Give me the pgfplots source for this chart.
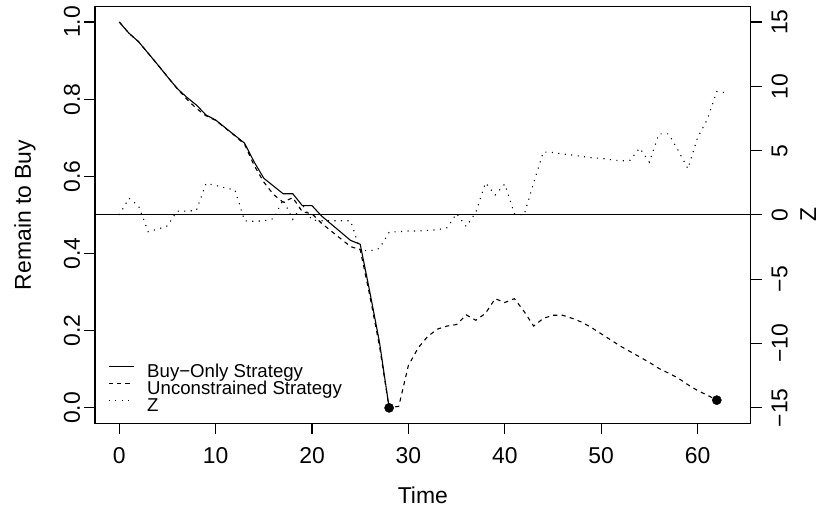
\documentclass[border=0pt]{standalone}
\usepackage{pgfplots}
\pgfplotsset{compat=1.18}
\usepackage{pgfplotstable}
\usepackage{fontspec}
\setmainfont{Liberation Sans}

\pgfplotstableread{
t R
0 1.000
1 0.971
2 0.949
3 0.919
4 0.889
5 0.858
6 0.828
7 0.805
8 0.785
9 0.759
10 0.746
11 0.726
12 0.706
13 0.686
14 0.637
15 0.595
16 0.575
17 0.555
18 0.555
19 0.524
20 0.524
21 0.497
22 0.476
23 0.455
24 0.434
25 0.424
26 0.300
27 0.170
28 0.000
}\buyonly

\pgfplotstableread{
t R
0 1.000
1 0.971
2 0.949
3 0.919
4 0.889
5 0.858
6 0.828
7 0.800
8 0.776
9 0.757
10 0.745
11 0.725
12 0.705
13 0.683
14 0.628
15 0.585
16 0.553
17 0.533
18 0.545
19 0.508
20 0.503
21 0.478
22 0.458
23 0.438
24 0.418
25 0.410
26 0.290
27 0.160
28 0.000
29 0.004
30 0.110
31 0.155
32 0.185
33 0.204
34 0.212
35 0.216
36 0.241
37 0.227
38 0.245
39 0.283
40 0.273
41 0.283
42 0.250
43 0.212
44 0.232
45 0.240
46 0.240
47 0.232
48 0.222
49 0.208
50 0.192
51 0.176
52 0.160
53 0.146
54 0.132
55 0.118
56 0.102
57 0.090
58 0.077
59 0.060
60 0.045
61 0.033
62 0.020
}\unconstrained

\pgfplotstableread{
t Z
0 0
1 1.3
2 0.7
3 -1.3
4 -1.1
5 -0.85
6 0.3
7 0.3
8 0.35
9 2.45
10 2.3
11 2.1
12 1.95
13 -0.45
14 -0.5
15 -0.45
16 -0.3
17 1.2
18 -0.35
19 0.8
20 -0.4
21 -0.45
22 -0.45
23 -0.45
24 -0.45
25 -2.75
26 -2.8
27 -2.6
28 -1.35
29 -1.3
30 -1.25
31 -1.25
32 -1.2
33 -1.15
34 -1.0
35 0.1
36 -0.9
37 0.2
38 2.5
39 1.55
40 2.4
41 0.1
42 0.0
43 2.5
44 4.9
45 4.85
46 4.75
47 4.65
48 4.55
49 4.45
50 4.4
51 4.3
52 4.2
53 4.25
54 5.2
55 4.1
56 6.3
57 6.3
58 5.0
59 3.6
60 6.0
61 7.4
62 9.6
63 9.5
}\zdata

\tikzset{
  solidR/.style={line width=1.1bp, black, solid},
  dashR/.style={line width=1.1bp, black, dash pattern=on 4.2bp off 4.2bp},
  dotR/.style={line width=1.1bp, black, dash pattern=on 1.1bp off 5.4bp},
}
\newcommand{\bigfont}{\fontsize{23}{27}\selectfont}
\newcommand{\legfont}{\fontsize{18.7}{20}\selectfont}

\begin{document}
\begin{tikzpicture}[x=1bp,y=1bp]
\useasboundingbox (0,0) rectangle (821,511);
\begin{axis}[
  at={(95bp,87.7bp)}, anchor=south west,
  scale only axis, width=655.7bp, height=416.7bp,
  xmin=-2.52, xmax=65.52, ymin=-0.04, ymax=1.04,
  axis line style={line width=1.1bp},
  tick style={line width=1.1bp, black},
  tick align=outside, major tick length=11bp,
  xtick pos=left, ytick pos=left,
  xtick={0,10,20,30,40,50,60}, xticklabels={0,10,20,30,40,50,60},
  ytick={0,0.2,0.4,0.6,0.8,1.0}, yticklabels={0.0,0.2,0.4,0.6,0.8,1.0},
  /pgf/number format/assume math mode=true,
  tick label style={font=\bigfont},
  xticklabel style={anchor=center, yshift=-21bp},
  yticklabel style={anchor=center, xshift=-12bp, rotate=90},
  xlabel={Time}, ylabel={Remain to Buy},
  every axis x label/.style={at={(rel axis cs:0.5,0)}, anchor=center, yshift=-71.7bp, font=\bigfont},
  every axis y label/.style={at={(rel axis cs:0,0.5)}, anchor=center, xshift=-70bp, rotate=90, font=\bigfont},
  legend style={draw=none, fill=none, at={(rel axis cs:0.0198,0.1413)}, anchor=north west,
    inner sep=0pt, outer sep=0pt, font=\legfont, row sep=0pt,
    nodes={inner sep=0pt, outer sep=0pt, text height=13bp, text depth=4.25bp}},
  legend cell align=left,
  legend image code/.code={\draw[#1] (0bp,6.7bp) -- (25bp,6.7bp); \path[draw=none] (0bp,6.7bp) -- (38.7bp,6.7bp);},
]
\addplot[solidR] table[x=t, y=R] {\buyonly};
\addlegendentry{Buy−Only Strategy}
\addplot[dashR] table[x=t, y=R] {\unconstrained};
\addlegendentry{Unconstrained Strategy}
\addlegendimage{dotR}
\addlegendentry{Z}
\addplot[only marks, mark=*, mark size=4.6bp, black, forget plot] coordinates {(28,0) (62,0.02)};
\end{axis}
\begin{axis}[
  at={(95bp,87.7bp)}, anchor=south west,
  scale only axis, width=655.7bp, height=416.7bp,
  xmin=-2.52, xmax=65.52, ymin=-16.2, ymax=16.2,
  axis x line=none, axis y line*=right,
  axis line style={line width=1.1bp, -},
  tick style={line width=1.1bp, black},
  tick align=outside, major tick length=11bp,
  ytick={-15,-10,-5,0,5,10,15}, yticklabels={−15,−10,−5,0,5,10,15},
  /pgf/number format/assume math mode=true,
  tick label style={font=\bigfont},
  yticklabel style={anchor=center, xshift=18bp, rotate=90},
  ylabel={Z},
  every axis y label/.style={at={(rel axis cs:1,0.5)}, anchor=center, xshift=57.5bp, rotate=90, inner sep=0pt, font=\bigfont},
]
\addplot[line width=1.1bp, black] coordinates {(-2.52,0) (65.52,0)};
\addplot[dotR] table[x=t, y=Z] {\zdata};
\end{axis}
\end{tikzpicture}
\end{document}
